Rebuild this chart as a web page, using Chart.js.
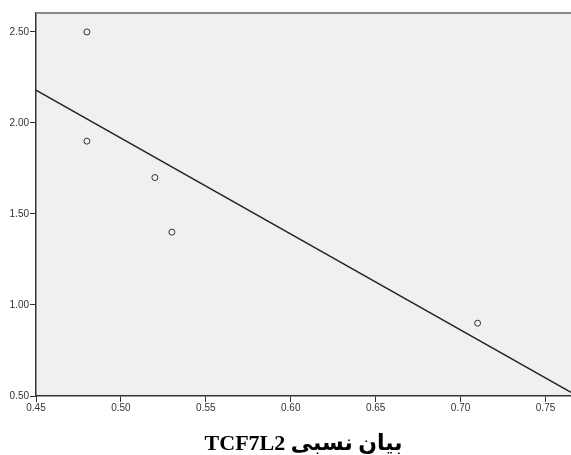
<!DOCTYPE html>
<html>
<head>
<meta charset="utf-8">
<script src="https://cdn.jsdelivr.net/npm/chart.js@4/dist/chart.umd.min.js"></script>
<style>
  html, body { margin: 0; padding: 0; background: #ffffff; }
  #wrap { width: 571px; height: 455px; position: relative; }
</style>
</head>
<body>
<div id="wrap"><canvas id="c" width="571" height="455"></canvas></div>
<script>
// Data
const xValues = [0.48, 0.48, 0.52, 0.53, 0.71];
const yValues = [2.50, 1.90, 1.70, 1.40, 0.90];
// Fit line endpoints
const fitX = [0.45, 0.765];
const fitY = [2.18, 0.52];
const xTicks = [0.45, 0.50, 0.55, 0.60, 0.65, 0.70, 0.75];
const yTicks = [0.50, 1.00, 1.50, 2.00, 2.50];
const xTitle = 'TCF7L2 بیان نسبی';

const points = xValues.map((x, i) => ({ x: x, y: yValues[i] }));
const fitLine = fitX.map((x, i) => ({ x: x, y: fitY[i] }));

const bgPlugin = {
  id: 'bg',
  beforeDraw(chart) {
    const { ctx, chartArea: a } = chart;
    ctx.save();
    ctx.fillStyle = '#f0f0f0';
    ctx.fillRect(a.left, a.top, a.right - a.left, a.bottom - a.top);
    ctx.restore();
  },
  afterDraw(chart) {
    const { ctx, chartArea: a } = chart;
    ctx.save();
    ctx.strokeStyle = '#8a8a8a';
    ctx.lineWidth = 2;
    ctx.beginPath();
    ctx.moveTo(a.left, a.top);
    ctx.lineTo(a.right, a.top);
    ctx.stroke();
    ctx.restore();
  }
};

const tickFont = { family: "'Liberation Sans', Arial, sans-serif", size: 10 };

new Chart(document.getElementById('c'), {
  type: 'scatter',
  data: {
    datasets: [
      {
        data: points,
        pointRadius: 3,
        pointBorderWidth: 1,
        pointBorderColor: '#333333',
        pointBackgroundColor: 'rgba(0,0,0,0)',
        showLine: false
      },
      {
        type: 'line',
        data: fitLine,
        borderColor: '#222222',
        borderWidth: 1.3,
        pointRadius: 0,
        fill: false
      }
    ]
  },
  options: {
    responsive: false,
    animation: false,
    events: [],
    layout: { autoPadding: false, padding: { top: 13, right: 0, left: 0, bottom: 0 } },
    plugins: { legend: { display: false }, tooltip: { enabled: false } },
    scales: {
      x: {
        type: 'linear',
        min: 0.45,
        max: 0.765,
        afterBuildTicks(scale) { scale.ticks = xTicks.map(v => ({ value: v })); },
        afterFit(scale) { scale.height = 59; },
        grid: { display: true, drawOnChartArea: false, drawTicks: true, tickLength: 6, color: '#333333' },
        border: { display: true, color: '#333333', width: 1.5 },
        ticks: {
          font: tickFont, color: '#333333', padding: 0, maxRotation: 0, autoSkip: false,
          callback: v => v.toFixed(2)
        },
        title: {
          display: true,
          text: xTitle,
          font: { family: "'Liberation Serif', 'Times New Roman', 'DejaVu Sans', serif", size: 22, weight: 'bold', lineHeight: 1.0 },
          color: '#000000',
          padding: { top: 14, bottom: 0 }
        }
      },
      y: {
        type: 'linear',
        min: 0.5,
        max: 2.604,
        afterBuildTicks(scale) { scale.ticks = yTicks.map(v => ({ value: v })); },
        afterFit(scale) { scale.width = 36; },
        grid: { display: true, drawOnChartArea: false, drawTicks: true, tickLength: 6, color: '#333333' },
        border: { display: true, color: '#333333', width: 1.5 },
        ticks: {
          font: tickFont, color: '#333333', padding: 1, autoSkip: false,
          callback: v => v.toFixed(2)
        }
      }
    }
  },
  plugins: [bgPlugin]
});
</script>
</body>
</html>
